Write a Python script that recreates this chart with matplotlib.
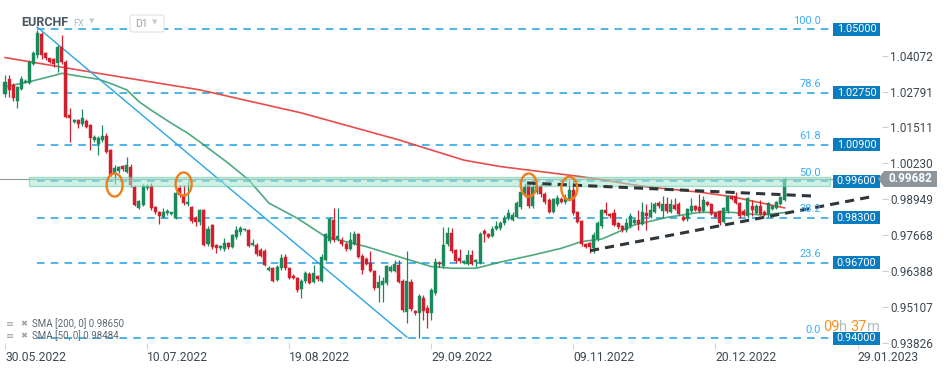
import numpy as np
import matplotlib
matplotlib.use("Agg")
import matplotlib.pyplot as plt
from matplotlib.patches import Rectangle, Ellipse, Polygon, FancyBboxPatch
from matplotlib.transforms import blended_transform_factory

plt.rcParams['font.family'] = ['Roboto', 'DejaVu Sans']

# EURCHF daily candles
opens = [1.0270, 1.0324, 1.0303, 1.0246, 1.0289, 1.0314, 1.0308, 1.0376, 1.0409, 1.0483,
         1.0415, 1.0397, 1.0394, 1.0381, 1.0438, 1.0385, 1.0196, 1.0170, 1.0178, 1.0162,
         1.0174, 1.0160, 1.0107, 1.0091, 1.0107, 1.0121, 1.0071, 0.9988, 0.9996, 1.0014,
         0.9994, 1.0011, 0.9940, 0.9866, 0.9875, 0.9937, 0.9943, 0.9869, 0.9851, 0.9834,
         0.9846, 0.9842, 0.9830, 0.9937, 0.9911, 0.9878, 0.9869, 0.9830, 0.9815, 0.9858,
         0.9737, 0.9804, 0.9733, 0.9721, 0.9717, 0.9739, 0.9727, 0.9760, 0.9778, 0.9786,
         0.9786, 0.9733, 0.9733, 0.9715, 0.9712, 0.9644, 0.9652, 0.9608, 0.9650, 0.9691,
         0.9650, 0.9623, 0.9616, 0.9575, 0.9603, 0.9630, 0.9602, 0.9623, 0.9605, 0.9680,
         0.9746, 0.9823, 0.9753, 0.9751, 0.9738, 0.9720, 0.9736, 0.9772, 0.9694, 0.9683,
         0.9667, 0.9641, 0.9578, 0.9590, 0.9596, 0.9641, 0.9641, 0.9662, 0.9605, 0.9496,
         0.9602, 0.9499, 0.9490, 0.9545, 0.9510, 0.9490, 0.9561, 0.9670, 0.9657, 0.9735,
         0.9775, 0.9714, 0.9685, 0.9668, 0.9665, 0.9697, 0.9671, 0.9670, 0.9781, 0.9772,
         0.9765, 0.9790, 0.9792, 0.9810, 0.9828, 0.9822, 0.9834, 0.9869, 0.9911, 0.9946,
         0.9871, 0.9920, 0.9943, 0.9913, 0.9894, 0.9850, 0.9877, 0.9898, 0.9885, 0.9896,
         0.9929, 0.9850, 0.9818, 0.9736, 0.9741, 0.9722, 0.9754, 0.9800, 0.9857, 0.9843,
         0.9845, 0.9812, 0.9800, 0.9785, 0.9800, 0.9812, 0.9822, 0.9809, 0.9845, 0.9834,
         0.9849, 0.9884, 0.9855, 0.9880, 0.9850, 0.9876, 0.9880, 0.9833, 0.9825, 0.9853,
         0.9871, 0.9869, 0.9855, 0.9885, 0.9880, 0.9848, 0.9854, 0.9816, 0.9853, 0.9906,
         0.9908, 0.9882, 0.9855, 0.9835, 0.9872, 0.9847, 0.9872, 0.9852, 0.9838, 0.9860,
         0.9865, 0.9880, 0.9894]
highs = [1.0338, 1.0338, 1.0310, 1.0300, 1.0335, 1.0322, 1.0390, 1.0425, 1.0498, 1.0490,
         1.0420, 1.0400, 1.0397, 1.0445, 1.0480, 1.0390, 1.0221, 1.0182, 1.0182, 1.0217,
         1.0180, 1.0165, 1.0125, 1.0120, 1.0160, 1.0130, 1.0075, 1.0017, 1.0015, 1.0017,
         1.0046, 1.0020, 0.9945, 0.9893, 0.9950, 0.9950, 0.9955, 0.9870, 0.9855, 0.9865,
         0.9860, 0.9852, 0.9920, 0.9946, 0.9946, 0.9958, 0.9872, 0.9835, 0.9862, 0.9862,
         0.9800, 0.9808, 0.9736, 0.9733, 0.9757, 0.9745, 0.9772, 0.9800, 0.9800, 0.9795,
         0.9790, 0.9755, 0.9740, 0.9722, 0.9720, 0.9658, 0.9656, 0.9660, 0.9700, 0.9700,
         0.9653, 0.9628, 0.9620, 0.9610, 0.9640, 0.9635, 0.9660, 0.9627, 0.9700, 0.9775,
         0.9834, 0.9863, 0.9863, 0.9760, 0.9742, 0.9780, 0.9782, 0.9775, 0.9700, 0.9690,
         0.9710, 0.9645, 0.9626, 0.9620, 0.9662, 0.9660, 0.9679, 0.9679, 0.9610, 0.9712,
         0.9610, 0.9503, 0.9560, 0.9555, 0.9520, 0.9580, 0.9685, 0.9675, 0.9796, 0.9798,
         0.9795, 0.9720, 0.9720, 0.9680, 0.9715, 0.9715, 0.9683, 0.9780, 0.9790, 0.9775,
         0.9800, 0.9819, 0.9820, 0.9840, 0.9860, 0.9850, 0.9890, 0.9930, 0.9955, 0.9960,
         0.9955, 0.9950, 0.9950, 0.9920, 0.9900, 0.9900, 0.9910, 0.9905, 0.9915, 0.9964,
         0.9964, 0.9855, 0.9822, 0.9740, 0.9745, 0.9780, 0.9820, 0.9862, 0.9887, 0.9845,
         0.9860, 0.9815, 0.9805, 0.9830, 0.9845, 0.9828, 0.9857, 0.9887, 0.9877, 0.9887,
         0.9885, 0.9890, 0.9907, 0.9905, 0.9896, 0.9900, 0.9885, 0.9838, 0.9865, 0.9900,
         0.9876, 0.9913, 0.9907, 0.9890, 0.9884, 0.9852, 0.9858, 0.9868, 0.9912, 0.9910,
         0.9920, 0.9886, 0.9860, 0.9905, 0.9893, 0.9878, 0.9893, 0.9856, 0.9886, 0.9876,
         0.9890, 0.9908, 0.9971]
lows = [1.0260, 1.0260, 1.0245, 1.0222, 1.0285, 1.0310, 1.0305, 1.0372, 1.0400, 1.0395,
        1.0390, 1.0380, 1.0368, 1.0349, 1.0377, 1.0185, 1.0100, 1.0166, 1.0149, 1.0158,
        1.0150, 1.0071, 1.0100, 1.0053, 1.0100, 1.0060, 0.9978, 0.9949, 0.9990, 0.9998,
        0.9990, 0.9940, 0.9870, 0.9860, 0.9870, 0.9930, 0.9858, 0.9843, 0.9808, 0.9830,
        0.9840, 0.9838, 0.9825, 0.9905, 0.9876, 0.9870, 0.9812, 0.9800, 0.9805, 0.9728,
        0.9730, 0.9720, 0.9703, 0.9716, 0.9712, 0.9720, 0.9722, 0.9755, 0.9770, 0.9782,
        0.9725, 0.9728, 0.9695, 0.9690, 0.9658, 0.9640, 0.9600, 0.9603, 0.9645, 0.9645,
        0.9610, 0.9610, 0.9565, 0.9545, 0.9598, 0.9595, 0.9598, 0.9605, 0.9600, 0.9675,
        0.9740, 0.9745, 0.9748, 0.9730, 0.9710, 0.9715, 0.9732, 0.9686, 0.9630, 0.9660,
        0.9636, 0.9572, 0.9531, 0.9530, 0.9590, 0.9637, 0.9636, 0.9597, 0.9495, 0.9454,
        0.9498, 0.9485, 0.9400, 0.9465, 0.9436, 0.9466, 0.9555, 0.9655, 0.9650, 0.9730,
        0.9705, 0.9670, 0.9670, 0.9665, 0.9660, 0.9660, 0.9655, 0.9665, 0.9745, 0.9758,
        0.9760, 0.9785, 0.9785, 0.9805, 0.9822, 0.9818, 0.9830, 0.9860, 0.9905, 0.9865,
        0.9866, 0.9915, 0.9905, 0.9880, 0.9845, 0.9845, 0.9870, 0.9882, 0.9880, 0.9890,
        0.9840, 0.9810, 0.9730, 0.9722, 0.9705, 0.9705, 0.9748, 0.9795, 0.9840, 0.9830,
        0.9800, 0.9790, 0.9780, 0.9778, 0.9795, 0.9806, 0.9786, 0.9805, 0.9786, 0.9830,
        0.9845, 0.9865, 0.9830, 0.9848, 0.9845, 0.9858, 0.9838, 0.9818, 0.9820, 0.9848,
        0.9855, 0.9848, 0.9850, 0.9872, 0.9838, 0.9829, 0.9805, 0.9810, 0.9848, 0.9892,
        0.9878, 0.9830, 0.9835, 0.9830, 0.9835, 0.9842, 0.9838, 0.9835, 0.9834, 0.9857,
        0.9860, 0.9876, 0.9890]
closes = [1.0313, 1.0285, 1.0256, 1.0296, 1.0324, 1.0318, 1.0383, 1.0415, 1.0486, 1.0409,
          1.0397, 1.0385, 1.0376, 1.0438, 1.0384, 1.0190, 1.0184, 1.0178, 1.0162, 1.0184,
          1.0154, 1.0113, 1.0119, 1.0115, 1.0122, 1.0065, 0.9982, 1.0008, 1.0011, 1.0003,
          1.0017, 0.9946, 0.9875, 0.9889, 0.9943, 0.9944, 0.9863, 0.9849, 0.9837, 0.9849,
          0.9854, 0.9849, 0.9917, 0.9911, 0.9881, 0.9887, 0.9818, 0.9814, 0.9857, 0.9733,
          0.9789, 0.9727, 0.9721, 0.9729, 0.9739, 0.9725, 0.9768, 0.9786, 0.9794, 0.9790,
          0.9730, 0.9739, 0.9700, 0.9695, 0.9662, 0.9652, 0.9606, 0.9656, 0.9685, 0.9650,
          0.9614, 0.9614, 0.9573, 0.9606, 0.9632, 0.9599, 0.9634, 0.9610, 0.9691, 0.9772,
          0.9827, 0.9750, 0.9765, 0.9735, 0.9718, 0.9751, 0.9772, 0.9691, 0.9644, 0.9664,
          0.9641, 0.9578, 0.9602, 0.9604, 0.9658, 0.9653, 0.9664, 0.9602, 0.9501, 0.9605,
          0.9505, 0.9490, 0.9552, 0.9499, 0.9490, 0.9573, 0.9674, 0.9664, 0.9733, 0.9775,
          0.9711, 0.9677, 0.9676, 0.9676, 0.9697, 0.9665, 0.9679, 0.9772, 0.9772, 0.9763,
          0.9790, 0.9800, 0.9812, 0.9830, 0.9848, 0.9840, 0.9881, 0.9923, 0.9940, 0.9872,
          0.9940, 0.9943, 0.9913, 0.9887, 0.9850, 0.9896, 0.9900, 0.9887, 0.9900, 0.9927,
          0.9846, 0.9815, 0.9738, 0.9727, 0.9724, 0.9768, 0.9812, 0.9857, 0.9845, 0.9836,
          0.9804, 0.9796, 0.9786, 0.9810, 0.9835, 0.9822, 0.9809, 0.9849, 0.9836, 0.9857,
          0.9880, 0.9870, 0.9880, 0.9853, 0.9880, 0.9862, 0.9843, 0.9823, 0.9861, 0.9871,
          0.9858, 0.9853, 0.9894, 0.9876, 0.9843, 0.9834, 0.9810, 0.9864, 0.9908, 0.9896,
          0.9882, 0.9835, 0.9840, 0.9900, 0.9856, 0.9872, 0.9843, 0.9840, 0.9882, 0.9872,
          0.9885, 0.9902, 0.99682]

date_idx = [0, 35, 70, 105, 140, 175, 210]
date_labels = ["30.05.2022", "10.07.2022", "19.08.2022", "29.09.2022",
               "09.11.2022", "20.12.2022", "29.01.2023"]
price_ticks = [1.04072, 1.02791, 1.01511, 1.00230, 0.98949, 0.97668, 0.96388, 0.95107, 0.93826]

fib_levels = [1.05, 1.0275, 1.009, 0.996, 0.983, 0.967, 0.94]
fib_pct = ["100.0", "78.6", "61.8", "50.0", "38.2", "23.6", "0.0"]

sma200_idx = [0, 23, 48, 73, 97, 113, 122, 142, 158, 171, 179, 192]
sma200_val = [1.0400, 1.0344, 1.0285, 1.0203, 1.0107, 1.0035, 1.0012, 0.9976, 0.9940,
              0.9921, 0.9905, 0.9865]
sma50_idx = [0, 6, 12, 14, 19, 23, 26, 30, 33, 36, 41, 45, 49, 55, 60, 65, 72, 79, 89,
             97, 105, 110, 116, 122, 130, 137, 142, 147, 155, 163, 171, 179, 186, 192]
sma50_val = [1.0296, 1.0314, 1.0336, 1.0344, 1.0332, 1.0323, 1.0308, 1.0285, 1.0243,
             1.0213, 1.0166, 1.0131, 1.0089, 1.0024, 0.9965, 0.9882, 0.9828, 0.9762,
             0.9727, 0.9691, 0.9656, 0.9650, 0.9650, 0.9672, 0.9697, 0.9721, 0.9745,
             0.9754, 0.9804, 0.9831, 0.9849, 0.9849, 0.9840, 0.9848]

zone_low, zone_high = 0.9944, 0.99737
last_price = 0.99682
trend_idx, trend_val = [7.9, 99.0], [1.0509, 0.9405]
upper_idx, upper_val = [128.6, 198.8], [0.99535, 0.99072]
lower_idx, lower_val = [144.1, 214.3], [0.97125, 0.99072]
touch_idx = [27, 44, 129, 139]
touch_val = [0.99463, 0.99500, 0.99463, 0.99347]

W, H = 949, 370
fig = plt.figure(figsize=(W / 100, H / 100), dpi=100)
ax = fig.add_axes([0, 1 - 343.4 / H, 882 / W, (343.4 - 13) / H])
ax.set_xlim(-5 / 4.06, 877 / 4.06)
ax.set_ylim(0.93825, 1.05587)
for s in ax.spines.values():
    s.set_visible(False)


def fx(px):
    return px / W


def fy(py):
    return 1 - py / H


# fibonacci levels
ax.hlines(fib_levels, 8, 204, colors='#1ea0e6', linestyles=(0, (5, 4)), lw=1.1, zorder=2)
blend = blended_transform_factory(ax.transAxes, ax.transData)
for lvl, pct in zip(fib_levels, fib_pct):
    ax.annotate(pct, (821 / 882, lvl), xycoords=blend, xytext=(0, 2.5),
                textcoords='offset points', ha='right', va='bottom',
                fontsize=8, color='#3aaef0', annotation_clip=False, zorder=7)
    ax.add_patch(Rectangle((833 / 882, lvl - 0.00232), 47 / 882, 0.00464, transform=blend,
                           fc='#0a7cc0', ec='none', clip_on=False, zorder=8))
    ax.text(856.5 / 882, lvl, f"{lvl:.5f}", transform=blend, ha='center', va='center',
            fontsize=7.8, color='white', clip_on=False, zorder=9)

ax.axhline(last_price, color='#8f989d', lw=0.8, zorder=2)

# moving averages
ax.plot(sma200_idx, sma200_val, color='#e53935', lw=1.2, alpha=0.9, zorder=3)
ax.plot(sma50_idx, sma50_val, color='#2e9a68', lw=1.2, alpha=0.85, zorder=3)
ax.plot(trend_idx, trend_val, color='#2aa5e3', lw=1.0, zorder=3)

# candles
x = np.arange(len(closes))
o, h, l, c = map(np.array, (opens, highs, lows, closes))
col = np.where(c >= o, '#1b8a5a', '#d21f2e')
ax.vlines(x, l, h, colors=col, lw=0.9, zorder=4)
ax.bar(x, np.maximum(np.abs(c - o), 0.0003), bottom=np.minimum(o, c), width=0.74,
       color=col, edgecolor=col, lw=0.3, zorder=4)

# resistance zone
ax.add_patch(Rectangle((5.9, zone_low), 203.2 - 5.9, zone_high - zone_low, fc='#a6e6cf',
                       ec='#5fcaa2', alpha=0.55, lw=1, zorder=5))

# triangle
ax.plot(upper_idx, upper_val, color='#2f363b', lw=2.2, ls=(0, (3, 2)), zorder=6)
ax.plot(lower_idx, lower_val, color='#2f363b', lw=2.2, ls=(0, (3, 2)), zorder=6)

for ti, tv in zip(touch_idx, touch_val):
    ax.add_patch(Ellipse((ti, tv), 16 / 4.06, 23 * 0.000356, fill=False, ec='#f07d1a',
                         lw=1.7, zorder=7))

# axes ticks
ax.yaxis.tick_right()
ax.set_yticks(price_ticks, labels=[f"{v:.5f}" for v in price_ticks])
ax.tick_params(axis='y', length=4, color='#c8cdd0', pad=2, labelsize=8.5, labelcolor='#3c4850')
ax.set_xticks(date_idx, labels=date_labels)
ax.tick_params(axis='x', length=4, color='#d0d5d8', pad=1.5, labelsize=8.7, labelcolor='#3c4850')
for lbl in ax.get_xticklabels():
    lbl.set_ha('left')

# last price tag
tag = [(fx(878), fy(179)), (fx(884), fy(171)), (fx(937), fy(171)), (fx(937), fy(187)),
       (fx(884), fy(187))]
fig.patches.append(Polygon(tag, closed=True, transform=fig.transFigure, fc='#8c969c', ec='none'))
fig.text(fx(910), fy(179), f"{last_price:.5f}", ha='center', va='center', fontsize=8.5,
         color='white', fontweight='bold')

# countdown
fig.text(fx(823), fy(331), "09", fontsize=10.5, color='#f7931e', va='baseline')
fig.text(fx(839), fy(331), "h", fontsize=10.5, color='#b3bbc0', va='baseline')
fig.text(fx(850), fy(331), "37", fontsize=10.5, color='#f7931e', va='baseline')
fig.text(fx(867), fy(331), "m", fontsize=10.5, color='#b3bbc0', va='baseline')

# header
fig.text(fx(21), fy(23), "EURCHF", fontsize=9, color='#4b5962', fontweight='bold', va='center')
fig.text(fx(73), fy(24), "FX", fontsize=6.5, color='#a9b7c1', va='center')
fig.text(fx(89), fy(21), "▼", fontsize=5, color='#c3cbd1', va='center',
         family=['DejaVu Sans'])
fig.patches.append(FancyBboxPatch((fx(130), fy(32)), fx(34), 17 / H,
                                  boxstyle='round,pad=0,rounding_size=0.004',
                                  transform=fig.transFigure, fc='white', ec='#dde2e6', lw=0.8))
fig.text(fx(135), fy(24), "D1", fontsize=7.5, color='#97a5af', va='center')
fig.text(fx(152), fy(22), "▼", fontsize=5, color='#c3cbd1', va='center',
         family=['DejaVu Sans'])

# legend
for yy, txt in [(324, "SMA [200, 0] 0.98650"), (336, "SMA [50, 0] 0.98484")]:
    fig.text(fx(6), fy(yy), "≡", fontsize=7, color='#9aa4ab', va='center', family=['DejaVu Sans'])
    fig.text(fx(20), fy(yy), "✖", fontsize=6, color='#9aa4ab', va='center', family=['DejaVu Sans'])
    fig.text(fx(32), fy(yy), txt, fontsize=7, color='#5b6770', va='center')

fig.savefig("out.png", dpi=100)
